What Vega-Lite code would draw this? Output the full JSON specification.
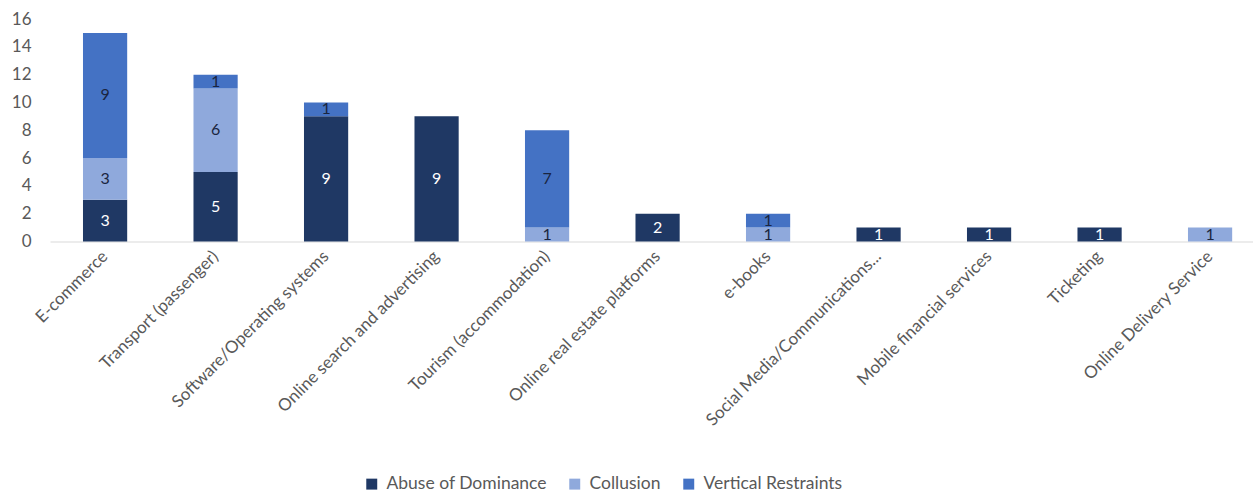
{
  "$schema": "https://vega.github.io/schema/vega-lite/v6.json",
  "autosize": {"type": "none"},
  "width": 1203,
  "height": 222.5,
  "padding": {"left": 50, "top": 19, "right": 0, "bottom": 251.5},
  "background": "white",
  "config": {
    "view": {"stroke": null},
    "font": "Lato",
    "axis": {"labelFont": "Lato", "labelColor": "#595959", "labelFontSize": 17, "labelOverlap": false}
  },
  "data": {
    "values": [
      {"sector": "E-commerce", "series": "Abuse of Dominance", "rank": 1, "cases": 3},
      {"sector": "E-commerce", "series": "Collusion", "rank": 2, "cases": 3},
      {"sector": "E-commerce", "series": "Vertical Restraints", "rank": 3, "cases": 9},
      {"sector": "Transport (passenger)", "series": "Abuse of Dominance", "rank": 1, "cases": 5},
      {"sector": "Transport (passenger)", "series": "Collusion", "rank": 2, "cases": 6},
      {"sector": "Transport (passenger)", "series": "Vertical Restraints", "rank": 3, "cases": 1},
      {"sector": "Software/Operating systems", "series": "Abuse of Dominance", "rank": 1, "cases": 9},
      {"sector": "Software/Operating systems", "series": "Vertical Restraints", "rank": 3, "cases": 1},
      {"sector": "Online search and advertising", "series": "Abuse of Dominance", "rank": 1, "cases": 9},
      {"sector": "Tourism (accommodation)", "series": "Collusion", "rank": 2, "cases": 1},
      {"sector": "Tourism (accommodation)", "series": "Vertical Restraints", "rank": 3, "cases": 7},
      {"sector": "Online real estate platforms", "series": "Abuse of Dominance", "rank": 1, "cases": 2},
      {"sector": "e-books", "series": "Collusion", "rank": 2, "cases": 1},
      {"sector": "e-books", "series": "Vertical Restraints", "rank": 3, "cases": 1},
      {"sector": "Social Media/Communications...", "series": "Abuse of Dominance", "rank": 1, "cases": 1},
      {"sector": "Mobile financial services", "series": "Abuse of Dominance", "rank": 1, "cases": 1},
      {"sector": "Ticketing", "series": "Abuse of Dominance", "rank": 1, "cases": 1},
      {"sector": "Online Delivery Service", "series": "Collusion", "rank": 2, "cases": 1}
    ]
  },
  "transform": [
    {"stack": "cases", "groupby": ["sector"], "sort": [{"field": "rank", "order": "ascending"}], "as": ["lo", "hi"]},
    {"calculate": "(datum.lo + datum.hi) / 2", "as": "mid"}
  ],
  "encoding": {
    "x": {
      "field": "sector",
      "type": "nominal",
      "sort": null,
      "title": null,
      "scale": {"paddingInner": 0.6, "paddingOuter": 0.2435, "align": 0.613},
      "axis": {
        "labelAngle": -45,
        "labelAlign": "right",
        "labelBaseline": "middle",
        "labelPadding": 12,
        "labelOverlap": false,
        "ticks": false,
        "domainColor": "#d9d9d9",
        "domainWidth": 1.2,
        "labelLimit": 400
      }
    }
  },
  "layer": [
    {
      "mark": {"type": "bar"},
      "encoding": {
        "y": {
          "field": "lo",
          "type": "quantitative",
          "title": null,
          "scale": {"domain": [0, 16], "nice": false},
          "axis": {"values": [0, 2, 4, 6, 8, 10, 12, 14, 16], "labelOverlap": false, "domain": false, "ticks": false, "grid": false, "labelPadding": 19}
        },
        "y2": {"field": "hi"},
        "color": {
          "field": "series",
          "type": "nominal",
          "scale": {
            "domain": ["Abuse of Dominance", "Collusion", "Vertical Restraints"],
            "range": ["#1f3864", "#8fa9dc", "#4472c4"]
          },
          "legend": {
            "title": null,
            "orient": "none",
            "direction": "horizontal",
            "legendX": 313,
            "legendY": 456,
            "symbolType": "square",
            "symbolSize": 120,
            "symbolStrokeWidth": 0,
            "labelFont": "Lato",
            "labelFontSize": 17.5,
            "labelColor": "#595959",
            "labelOffset": 6,
            "labelLimit": 400,
            "columnPadding": 19,
            "padding": 0
          }
        }
      }
    },
    {
      "mark": {"type": "text", "font": "Lato", "fontSize": 16, "baseline": "middle", "align": "center"},
      "encoding": {
        "y": {
          "field": "mid",
          "type": "quantitative",
          "title": null,
          "axis": {"values": [0, 2, 4, 6, 8, 10, 12, 14, 16], "labelOverlap": false, "domain": false, "ticks": false, "grid": false, "labelPadding": 19}
        },
        "text": {"field": "cases", "type": "quantitative"},
        "color": {
          "condition": {"test": "datum.series === 'Abuse of Dominance'", "value": "#ffffff"},
          "value": "#1a2540"
        }
      }
    }
  ]
}
